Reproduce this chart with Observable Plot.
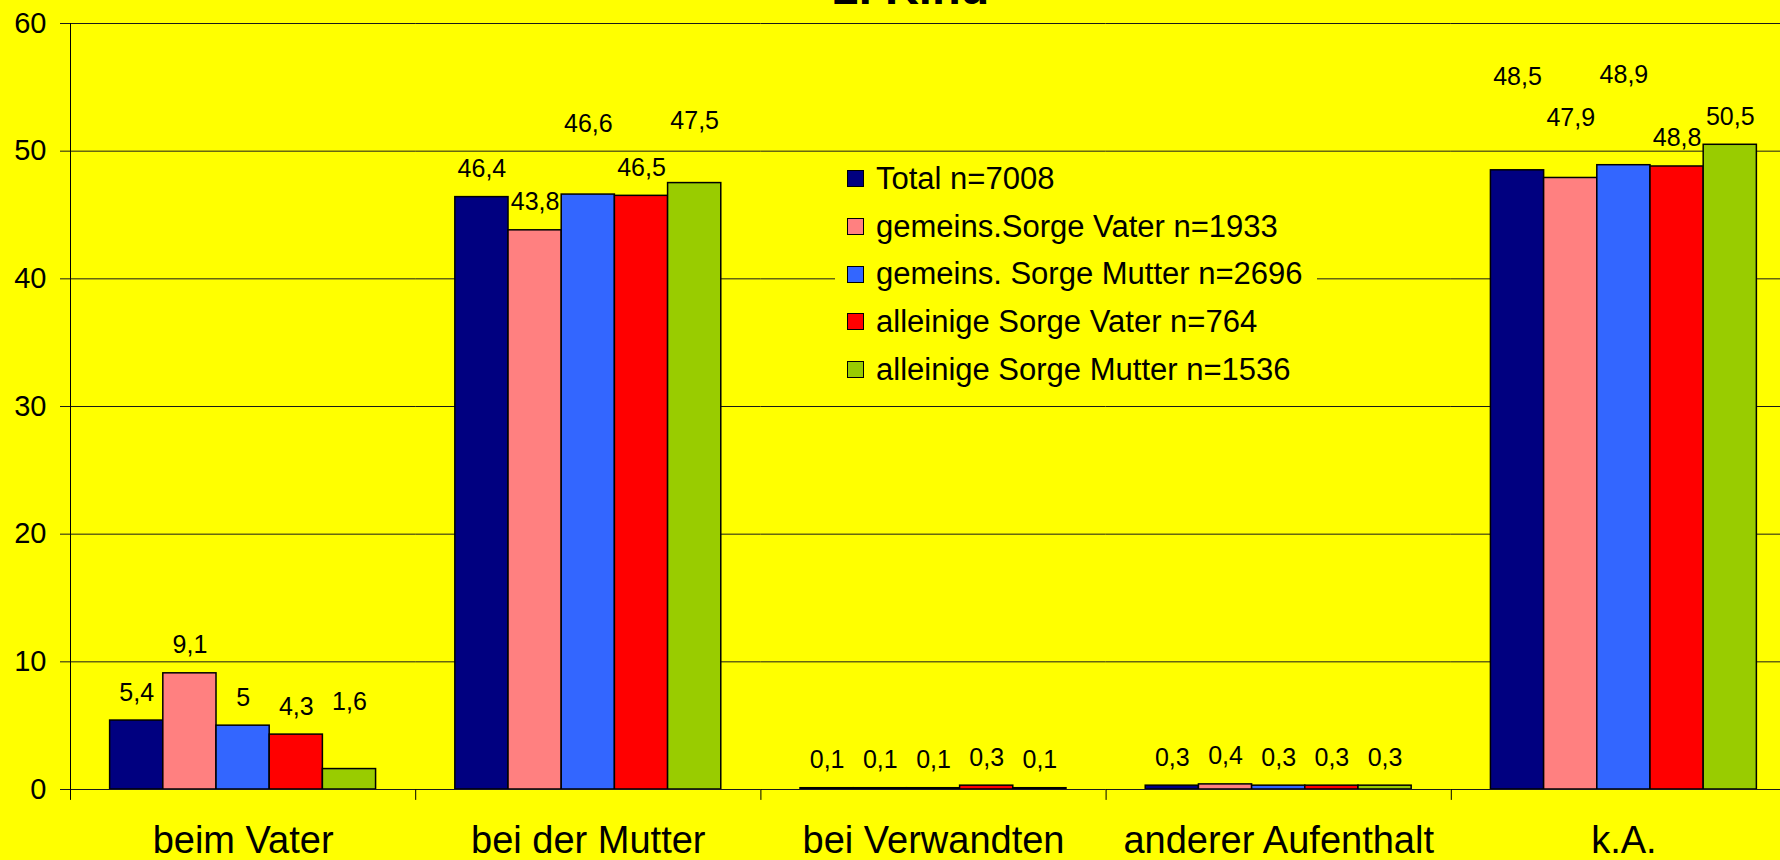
<!DOCTYPE html>
<html>
<head>
<meta charset="utf-8">
<script src="https://cdn.jsdelivr.net/npm/d3@7"></script>
<script src="https://cdn.jsdelivr.net/npm/@observablehq/plot@0.6"></script>
<style>
  html, body { margin: 0; padding: 0; background: #ffff00; overflow: hidden; }
  #wrap { position: relative; width: 1780px; height: 860px; overflow: hidden; background: #ffff00;
          font-family: "Liberation Sans", Arial, sans-serif; color: #000; }
  #chart { position: absolute; left: 0; top: 0; width: 1800px; }
  #chart svg { max-width: none !important; }
  #title { position: absolute; left: 0; top: -36px; width: 1822px; text-align: center;
           font-size: 47px; line-height: 47px; font-weight: bold; white-space: nowrap; }
  #legend { position: absolute; left: 835px; top: 152px; width: 482px; height: 244px;
            background: #ffff00; box-sizing: border-box; padding: 3px 0 0 12px; }
  .row { display: flex; align-items: center; height: 47.7px; font-size: 31px; white-space: nowrap; }
  .sw { width: 17px; height: 17px; box-sizing: border-box; border: 1.5px solid #000; margin-right: 12px; flex: none; }
</style>
</head>
<body>
<div id="wrap">
  <div id="chart"></div>
  <div id="title"></div>
  <div id="legend"></div>
</div>
<script>
// ---- data ----
const chartTitle = "2. Kind";
const categories = ["beim Vater", "bei der Mutter", "bei Verwandten", "anderer Aufenthalt", "k.A."];
const seriesNames = [
  "Total n=7008",
  "gemeins.Sorge Vater n=1933",
  "gemeins. Sorge Mutter n=2696",
  "alleinige Sorge Vater n=764",
  "alleinige Sorge Mutter n=1536"
];
const total        = [5.4, 46.4, 0.1, 0.3, 48.5];
const gemeinsVater = [9.1, 43.8, 0.1, 0.4, 47.9];
const gemeinsMutter= [5,   46.6, 0.1, 0.3, 48.9];
const alleinVater  = [4.3, 46.5, 0.3, 0.3, 48.8];
const alleinMutter = [1.6, 47.5, 0.1, 0.3, 50.5];
const yTicks = [0, 10, 20, 30, 40, 50, 60];

// ---- styles / layout ----
const seriesColors = ["#000080", "#ff8080", "#3366ff", "#ff0000", "#99cc00"];
// extra upward nudge (px) of data labels that were dragged up in the original
const labelNudge = [
  [0, 0, 0, 0, 65],
  [0, 0, 0, 0, 32],
  [0, 43, 0, 0, 62],
  [0, 0, 0, 0, 0],
  [39, 34, 0, 0, 0]
];

const seriesValues = [total, gemeinsVater, gemeinsMutter, alleinVater, alleinMutter];
const rows = seriesNames.flatMap((s, i) => categories.map((c, j) => ({
  category: c, series: s, value: seriesValues[i][j], nudge: labelNudge[i][j]
})));
const fmt = v => String(v).replace(".", ",");
const nudges = [...new Set(rows.map(d => d.nudge))];

const tickShape = { draw(context, l) { context.moveTo(0, 0); context.lineTo(0, -l); } };

const chart = Plot.plot({
  width: 1800,
  height: 860,
  marginTop: 23,
  marginBottom: 71,
  marginLeft: 70,
  marginRight: 4,
  style: { background: "transparent", fontFamily: "Liberation Sans, Arial, sans-serif", color: "#000", overflow: "visible", maxWidth: "none" },
  fx: { domain: categories, padding: 0, round: false, label: null },
  x: { domain: seriesNames, paddingInner: 0, paddingOuter: 0.745, round: false, axis: null },
  y: { domain: [0, 60], label: null },
  color: { domain: seriesNames, range: seriesColors },
  marks: [
    Plot.gridY(yTicks.slice(1), { stroke: "#1a1a1a", strokeOpacity: 1, strokeWidth: 1 }),
    Plot.barY(rows, { fx: "category", x: "series", y: "value", fill: "series", stroke: "#000", strokeWidth: 1.5 }),
    Plot.ruleY([0], { stroke: "#1a1a1a", strokeWidth: 1 }),
    Plot.frame({ anchor: "left", facetAnchor: "left", stroke: "#000" }),
    Plot.vector([0], { frameAnchor: "bottom-left", length: 10, rotate: 180, anchor: "start", stroke: "#000", strokeWidth: 1, shape: tickShape }),
    Plot.axisY(yTicks, { tickSize: 10, tickPadding: 14, fontSize: 29, label: null, stroke: "#1a1a1a" }),
    Plot.axisFx({ anchor: "bottom", tickSize: 0, tickPadding: 37, fontSize: 38, label: null }),
    ...nudges.map(n => Plot.text(rows.filter(d => d.nudge === n), {
      fx: "category", x: "series", y: "value", text: d => fmt(d.value),
      dy: -28 - n, fontSize: 25, fill: "#000"
    }))
  ]
});
document.getElementById("chart").appendChild(chart);
document.getElementById("title").textContent = chartTitle;

const legend = d3.select("#legend");
seriesNames.forEach((s, i) => {
  const row = legend.append("div").attr("class", "row");
  row.append("div").attr("class", "sw").style("background", seriesColors[i]);
  row.append("span").text(s);
});
</script>
</body>
</html>
